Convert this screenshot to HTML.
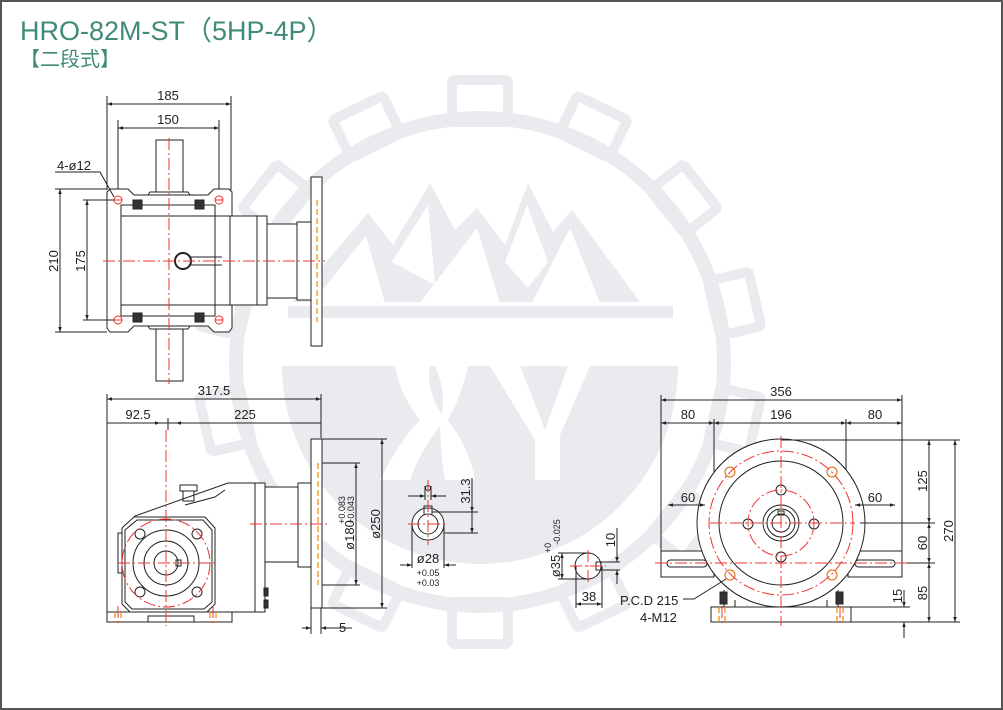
<!DOCTYPE html>
<html><head><meta charset="utf-8"><style>
html,body{margin:0;padding:0;background:#fff}
svg{display:block}
text{font-family:"Liberation Sans","Noto Sans CJK SC",sans-serif;fill:#222}
</style></head><body>
<svg width="1003" height="710" viewBox="0 0 1003 710" xmlns="http://www.w3.org/2000/svg">
<defs>
<marker id="a" viewBox="0 0 10 10" refX="10" refY="5" markerWidth="7" markerHeight="5" orient="auto-start-reverse"><path d="M0,1.5 L10,5 L0,8.5z" fill="#222"/></marker>
</defs>
<rect x="1" y="1" width="1001" height="708" fill="#fff" stroke="#555" stroke-width="2"/>
<!-- watermark -->
<g fill="none" stroke="#e9ebee">
<circle cx="480" cy="362" r="244" stroke-width="14"/>
<g stroke-width="10">
<g id="t"><rect x="452" y="80" width="56" height="42" rx="3"/></g>
<use href="#t" transform="rotate(25.7 480 362)"/><use href="#t" transform="rotate(51.4 480 362)"/><use href="#t" transform="rotate(77.1 480 362)"/>
<use href="#t" transform="rotate(102.8 480 362)"/><use href="#t" transform="rotate(128.5 480 362)"/><use href="#t" transform="rotate(154.2 480 362)"/>
<use href="#t" transform="rotate(-25.7 480 362)"/><use href="#t" transform="rotate(-51.4 480 362)"/><use href="#t" transform="rotate(-77.1 480 362)"/>
<use href="#t" transform="rotate(-102.8 480 362)"/><use href="#t" transform="rotate(-128.5 480 362)"/><use href="#t" transform="rotate(-154.2 480 362)"/>
<use href="#t" transform="rotate(180 480 362)"/>
</g>
</g>
<g fill="#e9ebee">
<path d="M282,366 L678,366 A198,198 0 0 1 282,366 Z"/>
<rect x="288" y="306" width="385" height="12"/>
<path d="M292,302 L368,213 L393,245 L430,183 L455,230 L477,208 L505,245 L528,183 L553,232 L572,210 L640,302 Z"/>
</g>
<g fill="#fff">
<path d="M312,303 L366,236 L385,303Z"/>
<path d="M392,262 L428,205 L435,285Z"/>
<path d="M420,303 L477,228 L500,303Z"/>
<path d="M505,262 L527,205 L548,262 L528,288Z"/>
<path d="M532,303 L570,228 L600,303Z"/>
<path d="M395,366 L430,366 Q425,390 445,420 Q420,450 410,480 L380,480 Q400,440 420,420 Q400,395 395,366Z"/>
<path d="M435,366 L468,366 Q462,395 448,420 Q470,450 475,480 L445,480 Q440,450 440,420 Q448,395 435,366Z"/>
<path d="M490,366 L520,366 L545,430 L568,366 L590,366 L560,435 L560,480 L535,480 L535,440 Z"/>
</g>
<!-- title -->
<text x="20" y="40" font-size="27" style="fill:#3f8a78">HRO-82M-ST（5HP-4P）</text>
<text x="20" y="66" font-size="20" style="fill:#3f8a78">【二段式】</text>

<g fill="none" stroke="#222" stroke-width="1">
<!-- VIEW 1 -->
<line x1="107" y1="96" x2="107" y2="190"/><line x1="231" y1="96" x2="231" y2="190"/>
<line x1="118" y1="120" x2="118" y2="198"/><line x1="219" y1="120" x2="219" y2="198"/>
<line x1="107" y1="104" x2="231" y2="104" marker-start="url(#a)" marker-end="url(#a)"/>
<line x1="118" y1="128" x2="219" y2="128" marker-start="url(#a)" marker-end="url(#a)"/>
<path d="M110,189 L128,189 L134,195 L208,195 L214,189 L229,189 L232,192 L232,328 L229,332 L214,332 L208,326 L134,326 L128,332 L110,332 L107,328 L107,192 Z" fill="#fff"/>
<rect x="121" y="205" width="94" height="11"/><rect x="121" y="305" width="94" height="11"/>
<rect x="121" y="216" width="94" height="89"/>
<path d="M148,195 L150,192 L188,192 L190,195"/><path d="M148,326 L150,329 L188,329 L190,326"/>
<rect x="156" y="140" width="27" height="52" fill="#fff"/><rect x="156" y="329" width="27" height="52" fill="#fff"/>
<rect x="215" y="216" width="15" height="89"/>
<rect x="230" y="216" width="27" height="89" fill="#fff"/><rect x="257" y="216" width="10" height="89" fill="#fff"/>
<rect x="267" y="224" width="30" height="74" fill="#fff"/><rect x="297" y="222" width="14" height="78" fill="#fff"/>
<rect x="311" y="177" width="11" height="169" fill="#fff"/>
<circle cx="183" cy="261" r="8" stroke-width="2"/>
<path d="M191,257 L222,257 M191,265 L222,265"/>
<g fill="#333"><rect x="133" y="200" width="9" height="9"/><rect x="195" y="200" width="9" height="9"/><rect x="133" y="313" width="9" height="9"/><rect x="195" y="313" width="9" height="9"/></g>
<g stroke="#e33"><circle cx="118" cy="200" r="4"/><circle cx="219" cy="200" r="4"/><circle cx="118" cy="320" r="4"/><circle cx="219" cy="320" r="4"/></g>
<line x1="60" y1="189" x2="60" y2="332" marker-start="url(#a)" marker-end="url(#a)"/>
<line x1="55" y1="189" x2="107" y2="189"/><line x1="55" y1="332" x2="107" y2="332"/>
<line x1="87" y1="200" x2="87" y2="320" marker-start="url(#a)" marker-end="url(#a)"/>
<line x1="83" y1="200" x2="114" y2="200"/><line x1="83" y1="320" x2="114" y2="320"/>
<path d="M55,172 L100,172 L114,197"/>

<!-- VIEW 2 -->
<line x1="107" y1="394" x2="107" y2="612"/><line x1="321" y1="394" x2="321" y2="438"/>
<line x1="168" y1="418" x2="168" y2="430"/>
<line x1="107" y1="399" x2="321" y2="399" marker-start="url(#a)" marker-end="url(#a)"/>
<line x1="107" y1="423" x2="160" y2="423" marker-end="url(#a)"/>
<line x1="176" y1="423" x2="321" y2="423" marker-start="url(#a)"/><line x1="160" y1="423" x2="176" y2="423"/>
<path d="M122,528 L135,516 L228,483 L255,483 L255,612 L207,612" fill="#fff"/>
<path d="M185,505 L215,497 L225,490"/>
<path d="M122,528 L122,604 L130,612 L207,612 L215,604 L215,528 L205,517 L135,517"/>
<path d="M125,530 L137,520 L203,520 L212,530 L212,602 L204,609 L132,609 L125,602Z"/>
<rect x="118" y="533" width="4" height="40"/>
<rect x="180" y="485" width="17" height="6"/><rect x="183" y="491" width="11" height="10"/>
<rect x="255" y="483" width="10" height="129" fill="#fff"/>
<rect x="265" y="487" width="33" height="75" fill="#fff"/><rect x="298" y="483" width="13" height="84" fill="#fff"/>
<rect x="311" y="439" width="11" height="169" fill="#fff"/>
<rect x="107" y="612" width="125" height="10" fill="#fff"/>
<path d="M148,622 L148,616 L194,616 L194,622"/>
<g fill="#333"><rect x="264" y="588" width="4" height="8"/><rect x="264" y="600" width="4" height="8"/></g>
<circle cx="166" cy="563" r="33"/><circle cx="166" cy="563" r="22"/><circle cx="166" cy="563" r="12"/>
<rect x="176" y="560" width="5" height="6"/>
<g><circle cx="140" cy="534" r="5"/><circle cx="197" cy="534" r="5"/><circle cx="140" cy="592" r="5"/><circle cx="197" cy="592" r="5"/></g>
<line x1="322" y1="439" x2="387" y2="439"/><line x1="322" y1="608" x2="387" y2="608"/>
<line x1="322" y1="463" x2="360" y2="463"/><line x1="322" y1="585" x2="360" y2="585"/>
<line x1="382" y1="439" x2="382" y2="608" marker-start="url(#a)" marker-end="url(#a)"/>
<line x1="356" y1="463" x2="356" y2="585" marker-start="url(#a)" marker-end="url(#a)"/>
<line x1="311" y1="608" x2="311" y2="634"/><line x1="321" y1="608" x2="321" y2="634"/>
<line x1="302" y1="628" x2="311" y2="628" marker-end="url(#a)"/><line x1="331" y1="628" x2="321" y2="628" marker-end="url(#a)"/>
<line x1="321" y1="628" x2="352" y2="628"/>

<!-- VIEW 3 -->
<circle cx="428" cy="524" r="16" fill="#fff"/><circle cx="428" cy="524" r="10"/>
<path d="M424,514 L424,506 L432,506 L432,514"/>
<circle cx="428" cy="488" r="2.5"/>
<line x1="425" y1="486" x2="425" y2="500"/><line x1="431" y1="486" x2="431" y2="500"/>
<line x1="408" y1="496" x2="425" y2="496" marker-end="url(#a)"/><line x1="446" y1="496" x2="431" y2="496" marker-end="url(#a)"/>
<line x1="432" y1="512" x2="478" y2="512"/><line x1="444" y1="533" x2="478" y2="533"/>
<line x1="472" y1="478" x2="472" y2="512" marker-end="url(#a)"/>
<line x1="472" y1="512" x2="472" y2="533" marker-end="url(#a)"/>
<line x1="412" y1="524" x2="412" y2="568"/><line x1="444" y1="524" x2="444" y2="568"/>
<line x1="400" y1="565" x2="412" y2="565" marker-end="url(#a)"/><line x1="456" y1="565" x2="444" y2="565" marker-end="url(#a)"/>

<!-- VIEW 4 -->
<circle cx="588" cy="566" r="13" fill="#fff"/>
<rect x="596" y="562" width="5" height="8"/>
<line x1="558" y1="553" x2="590" y2="553"/><line x1="558" y1="579" x2="590" y2="579"/>
<line x1="562" y1="553" x2="562" y2="579" marker-start="url(#a)" marker-end="url(#a)"/>
<line x1="596" y1="562" x2="620" y2="562"/><line x1="596" y1="570" x2="620" y2="570"/>
<line x1="617" y1="528" x2="617" y2="562" marker-end="url(#a)"/><line x1="617" y1="584" x2="617" y2="570" marker-end="url(#a)"/>
<line x1="576" y1="566" x2="576" y2="608"/><line x1="602" y1="566" x2="602" y2="608"/>
<line x1="576" y1="604" x2="602" y2="604" marker-start="url(#a)" marker-end="url(#a)"/>

<!-- VIEW 5 -->
<line x1="661" y1="395" x2="661" y2="552"/><line x1="902" y1="395" x2="902" y2="552"/>
<line x1="714" y1="419" x2="714" y2="540"/><line x1="846" y1="419" x2="846" y2="540"/>
<line x1="661" y1="400" x2="902" y2="400" marker-start="url(#a)" marker-end="url(#a)"/>
<line x1="661" y1="423" x2="714" y2="423" marker-start="url(#a)" marker-end="url(#a)"/>
<line x1="714" y1="423" x2="846" y2="423" marker-start="url(#a)" marker-end="url(#a)"/>
<line x1="846" y1="423" x2="902" y2="423" marker-start="url(#a)" marker-end="url(#a)"/>
<rect x="661" y="551" width="53" height="26" fill="#fff"/><rect x="848" y="551" width="54" height="26" fill="#fff"/>
<rect x="667" y="560" width="40" height="7" rx="3.5"/><rect x="855" y="560" width="40" height="7" rx="3.5"/>
<circle cx="781" cy="523" r="84" fill="#fff"/>
<circle cx="781" cy="523" r="62"/>
<circle cx="781" cy="523" r="18"/><circle cx="781" cy="523" r="14"/><circle cx="781" cy="523" r="9"/>
<rect x="778" y="511" width="6" height="4"/>
<g><circle cx="781" cy="490" r="5"/><circle cx="748" cy="524" r="5"/><circle cx="814" cy="524" r="5"/><circle cx="781" cy="557" r="5"/></g>
<g stroke="#d60"><circle cx="730" cy="472" r="5"/><circle cx="832" cy="472" r="5"/><circle cx="730" cy="575" r="5"/><circle cx="832" cy="575" r="5"/></g>
<path d="M724,590 L724,607 M838,590 L838,607 M735,600 L735,607 M827,600 L827,607"/>
<g fill="#333"><rect x="720" y="592" width="7" height="12"/><rect x="836" y="592" width="7" height="12"/></g>
<rect x="711" y="607" width="140" height="15" fill="#fff"/>
<line x1="668" y1="505" x2="705" y2="505" marker-start="url(#a)" marker-end="url(#a)"/>
<line x1="855" y1="505" x2="895" y2="505" marker-start="url(#a)" marker-end="url(#a)"/>
<line x1="781" y1="440" x2="960" y2="440"/><line x1="860" y1="523" x2="935" y2="523"/>
<line x1="902" y1="563" x2="935" y2="563"/><line x1="851" y1="622" x2="960" y2="622"/><line x1="851" y1="607" x2="910" y2="607"/>
<line x1="929" y1="440" x2="929" y2="523" marker-start="url(#a)" marker-end="url(#a)"/>
<line x1="929" y1="523" x2="929" y2="563" marker-start="url(#a)" marker-end="url(#a)"/>
<line x1="929" y1="563" x2="929" y2="622" marker-start="url(#a)" marker-end="url(#a)"/>
<line x1="955" y1="440" x2="955" y2="622" marker-start="url(#a)" marker-end="url(#a)"/>
<line x1="904" y1="590" x2="904" y2="607" marker-end="url(#a)"/><line x1="904" y1="638" x2="904" y2="622" marker-end="url(#a)"/>
<path d="M683,599 L694,599 L726,579"/>
</g>

<!-- red center lines -->
<g fill="none" stroke="#e33" stroke-width="1" stroke-dasharray="12,3,2,3">
<line x1="103" y1="261" x2="325" y2="261"/><line x1="169" y1="138" x2="169" y2="384"/>
<line x1="118" y1="563" x2="216" y2="563"/><line x1="166" y1="430" x2="166" y2="626"/>
<line x1="250" y1="524" x2="330" y2="524"/>
<circle cx="166" cy="563" r="44"/>
<line x1="118" y1="606" x2="118" y2="626"/><line x1="213" y1="606" x2="213" y2="626"/>
<line x1="408" y1="524" x2="448" y2="524"/><line x1="428" y1="480" x2="428" y2="545"/>
<line x1="570" y1="566" x2="606" y2="566"/><line x1="588" y1="550" x2="588" y2="582"/>
<line x1="655" y1="563" x2="908" y2="563"/><line x1="710" y1="523" x2="855" y2="523"/>
<line x1="781" y1="436" x2="781" y2="626"/>
<circle cx="781" cy="523" r="72"/><circle cx="781" cy="523" r="33"/>
<line x1="722" y1="606" x2="722" y2="626"/><line x1="840" y1="606" x2="840" y2="626"/>
</g>
<g stroke="#e33" stroke-width="1"><line x1="114" y1="200" x2="122" y2="200"/><line x1="114" y1="320" x2="122" y2="320"/><line x1="215" y1="200" x2="223" y2="200"/><line x1="215" y1="320" x2="223" y2="320"/></g>
<g stroke="#e80" stroke-width="1.2" stroke-dasharray="6,3" fill="none">
<line x1="317" y1="200" x2="317" y2="322"/><line x1="318" y1="463" x2="318" y2="585"/>
<line x1="115" y1="612" x2="115" y2="622"/><line x1="121" y1="612" x2="121" y2="622"/>
<line x1="210" y1="612" x2="210" y2="622"/><line x1="216" y1="612" x2="216" y2="622"/>
<line x1="719" y1="607" x2="719" y2="622"/><line x1="725" y1="607" x2="725" y2="622"/>
<line x1="837" y1="607" x2="837" y2="622"/><line x1="843" y1="607" x2="843" y2="622"/>
</g>

<!-- labels -->
<g font-size="13">
<text x="168" y="100" text-anchor="middle">185</text>
<text x="168" y="124" text-anchor="middle">150</text>
<text x="57" y="170">4-ø12</text>
<text transform="translate(58,261) rotate(-90)" text-anchor="middle">210</text>
<text transform="translate(85,261) rotate(-90)" text-anchor="middle">175</text>
<text x="214" y="395" text-anchor="middle">317.5</text>
<text x="138" y="419" text-anchor="middle">92.5</text>
<text x="245" y="419" text-anchor="middle">225</text>
<text transform="translate(380,524) rotate(-90)" text-anchor="middle">ø250</text>
<text transform="translate(354,535) rotate(-90)" text-anchor="middle">ø180</text>
<text x="339" y="632">5</text>
<text transform="translate(470,491) rotate(-90)" text-anchor="middle">31.3</text>
<text x="428" y="563" text-anchor="middle">ø28</text>
<text transform="translate(560,566) rotate(-90)" text-anchor="middle">ø35</text>
<text transform="translate(615,540) rotate(-90)" text-anchor="middle">10</text>
<text x="589" y="601" text-anchor="middle">38</text>
<text x="781" y="396" text-anchor="middle">356</text>
<text x="688" y="419" text-anchor="middle">80</text>
<text x="781" y="419" text-anchor="middle">196</text>
<text x="875" y="419" text-anchor="middle">80</text>
<text x="688" y="502" text-anchor="middle">60</text>
<text x="875" y="502" text-anchor="middle">60</text>
<text transform="translate(927,481) rotate(-90)" text-anchor="middle">125</text>
<text transform="translate(927,543) rotate(-90)" text-anchor="middle">60</text>
<text transform="translate(927,593) rotate(-90)" text-anchor="middle">85</text>
<text transform="translate(953,531) rotate(-90)" text-anchor="middle">270</text>
<text transform="translate(902,596) rotate(-90)" text-anchor="middle">15</text>
<text x="620" y="605">P.C.D 215</text>
<text x="640" y="622">4-M12</text>
</g>
<g font-size="9">
<text transform="translate(345,510) rotate(-90)" text-anchor="middle">+0.083</text>
<text transform="translate(354,510) rotate(-90)" text-anchor="middle">+0.043</text>
<text x="428" y="576" text-anchor="middle">+0.05</text>
<text x="428" y="586" text-anchor="middle">+0.03</text>
<text transform="translate(551,548) rotate(-90)" text-anchor="middle">+0</text>
<text transform="translate(560,532) rotate(-90)" text-anchor="middle">-0.025</text>
</g>
</svg>
</body></html>
